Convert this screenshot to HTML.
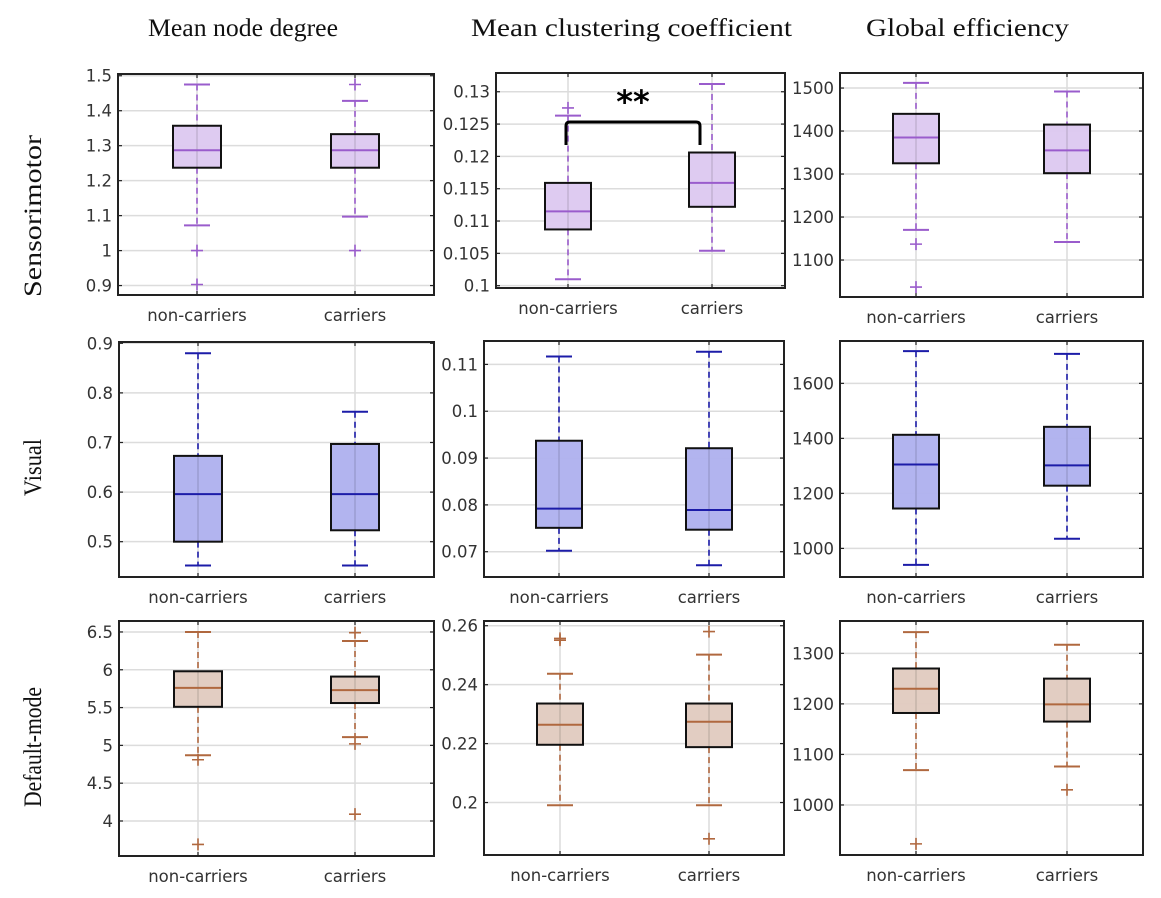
<!DOCTYPE html>
<html><head><meta charset="utf-8">
<style>
html,body{margin:0;padding:0;background:#fff;}
svg{display:block;}
</style></head>
<body>
<svg id="fig" width="1161" height="898" viewBox="0 0 1161 898" xmlns="http://www.w3.org/2000/svg">
<g id="titles" font-family="Liberation Serif, serif" fill="#111">
  <text x="148" y="36" font-size="25" textLength="190" lengthAdjust="spacingAndGlyphs">Mean node degree</text>
  <text x="471" y="36" font-size="25" textLength="321" lengthAdjust="spacingAndGlyphs">Mean clustering coefficient</text>
  <text x="866" y="36" font-size="25" textLength="203" lengthAdjust="spacingAndGlyphs">Global efficiency</text>
  <text transform="translate(41,297) rotate(-90)" font-size="25" textLength="162" lengthAdjust="spacingAndGlyphs">Sensorimotor</text>
  <text transform="translate(41,496) rotate(-90)" font-size="25" textLength="57" lengthAdjust="spacingAndGlyphs">Visual</text>
  <text transform="translate(41,807) rotate(-90)" font-size="25" textLength="120" lengthAdjust="spacingAndGlyphs">Default-mode</text>
</g>
</svg>
<script>
const categories = ["non-carriers", "carriers"];
// each box: [q1, median, q3, whiskerLow, whiskerHigh]
const smDegreeBoxes = [[1.237,1.287,1.357,1.072,1.475],[1.237,1.287,1.333,1.097,1.428]];
const smDegreeOut = [[1.0,0.903],[1.475,1.0]];
const smDegreeTicks = [0.9,1,1.1,1.2,1.3,1.4,1.5];
const smDegreeTickLabels = ["0.9","1","1.1","1.2","1.3","1.4","1.5"];

const smClustBoxes = [[0.1087,0.1115,0.1159,0.101,0.1263],[0.1122,0.1159,0.1206,0.1054,0.1312]];
const smClustOut = [[0.1275],[]];
const smClustTicks = [0.1,0.105,0.11,0.115,0.12,0.125,0.13];
const smClustTickLabels = ["0.1","0.105","0.11","0.115","0.12","0.125","0.13"];

const smEffBoxes = [[1325,1385,1440,1170,1512],[1302,1355,1415,1142,1492]];
const smEffOut = [[1137,1037],[]];
const smEffTicks = [1100,1200,1300,1400,1500];
const smEffTickLabels = ["1100","1200","1300","1400","1500"];

const visDegreeBoxes = [[0.5,0.596,0.673,0.452,0.88],[0.523,0.596,0.697,0.452,0.762]];
const visDegreeOut = [[],[]];
const visDegreeTicks = [0.5,0.6,0.7,0.8,0.9];
const visDegreeTickLabels = ["0.5","0.6","0.7","0.8","0.9"];

const visClustBoxes = [[0.0751,0.0792,0.0937,0.0702,0.1117],[0.0747,0.0789,0.0921,0.0671,0.1127]];
const visClustOut = [[],[]];
const visClustTicks = [0.07,0.08,0.09,0.1,0.11];
const visClustTickLabels = ["0.07","0.08","0.09","0.1","0.11"];

const visEffBoxes = [[1145,1305,1413,940,1717],[1228,1302,1442,1035,1707]];
const visEffOut = [[],[]];
const visEffTicks = [1000,1200,1400,1600];
const visEffTickLabels = ["1000","1200","1400","1600"];

const dmDegreeBoxes = [[5.51,5.76,5.98,4.87,6.5],[5.56,5.73,5.91,5.11,6.38]];
const dmDegreeOut = [[4.81,3.69],[6.49,5.02,4.09]];
const dmDegreeTicks = [4,4.5,5,5.5,6,6.5];
const dmDegreeTickLabels = ["4","4.5","5","5.5","6","6.5"];

const dmClustBoxes = [[0.2196,0.2264,0.2336,0.1991,0.2437],[0.2188,0.2274,0.2336,0.1991,0.2502]];
const dmClustOut = [[0.2551,0.2557],[0.258,0.1877]];
const dmClustTicks = [0.2,0.22,0.24,0.26];
const dmClustTickLabels = ["0.2","0.22","0.24","0.26"];

const dmEffBoxes = [[1182,1230,1270,1069,1342],[1165,1199,1250,1076,1317]];
const dmEffOut = [[923],[1030]];
const dmEffTicks = [1000,1100,1200,1300];
const dmEffTickLabels = ["1000","1100","1200","1300"];

const NS = "http://www.w3.org/2000/svg";
const svg = document.getElementById("fig");
function mk(tag, attrs, parent){
  const e = document.createElementNS(NS, tag);
  for (const k in attrs) e.setAttribute(k, attrs[k]);
  parent.appendChild(e);
  return e;
}
const themes = {
  sm: {fill:"#dcc8f0", line:"#9a5ccc"},
  vis:{fill:"#aeb0ee", line:"#1c1ca8"},
  dm: {fill:"#e0cabf", line:"#b0683f"}
};

function panel(name, L, R, T, B, ymin, ymax, xs, halfW, boxes, outs, ticks, tickLabels, theme){
  const g = mk("g", {}, svg);
  
  
  const y = v => B - (v - ymin) / (ymax - ymin) * (B - T);
  ticks.forEach((t, i) => {
    const gl = mk("line", {x1:L, x2:R, y1:y(t), y2:y(t), stroke:"#dcdcdc", "stroke-width":1.5}, g);
    
    
    const tm1 = mk("line", {x1:L, x2:L+4, y1:y(t), y2:y(t), stroke:"#222", "stroke-width":1.2}, g);
    
    
    const tm2 = mk("line", {x1:R-4, x2:R, y1:y(t), y2:y(t), stroke:"#222", "stroke-width":1.2}, g);
    
    
    const tl = mk("text", {x:L-6, y:y(t)+6, "text-anchor":"end", "font-size":16.5, fill:"#333", "font-family":"DejaVu Sans, Liberation Sans, sans-serif"}, g);
    tl.textContent = tickLabels[i];
    
    
  });
  xs.forEach((x, i) => {
    const vg = mk("line", {x1:x, x2:x, y1:T, y2:B, stroke:"#dcdcdc", "stroke-width":1.5}, g);
    
    
    const t1 = mk("line", {x1:x, x2:x, y1:T, y2:T+4, stroke:"#222", "stroke-width":1.2}, g);
    
    
    const t2 = mk("line", {x1:x, x2:x, y1:B-4, y2:B, stroke:"#222", "stroke-width":1.2}, g);
    
    
    const xl = mk("text", {x:x, y:B+26, "text-anchor":"middle", "font-size":16.5, fill:"#333", "font-family":"DejaVu Sans, Liberation Sans, sans-serif"}, g);
    xl.textContent = categories[i];
    
    
  });
  boxes.forEach((b, i) => {
    const x = xs[i];
    const [q1, med, q3, lo, hi] = b;
    const bg = mk("g", {}, g);
    
    
    const w1 = mk("line", {x1:x, x2:x, y1:y(hi), y2:y(q3), stroke:theme.line, "stroke-width":1.6, "stroke-dasharray":"6,4"}, bg);
    
    
    const w2 = mk("line", {x1:x, x2:x, y1:y(q1), y2:y(lo), stroke:theme.line, "stroke-width":1.6, "stroke-dasharray":"6,4"}, bg);
    
    
    [hi, lo].forEach(v => {
      const c = mk("line", {x1:x-13, x2:x+13, y1:y(v), y2:y(v), stroke:theme.line, "stroke-width":2}, bg);
      
      
    });
    const r = mk("rect", {x:x-halfW, y:y(q3), width:2*halfW, height:y(q1)-y(q3), fill:theme.fill, "fill-opacity":0.95, stroke:"#111", "stroke-width":2}, bg);
    
    
    const vx = mk("line", {x1:x, x2:x, y1:y(q3), y2:y(q1), stroke:"#000", "stroke-opacity":0.12, "stroke-width":1.5}, bg);
    
    
    const m = mk("line", {x1:x-halfW+1, x2:x+halfW-1, y1:y(med), y2:y(med), stroke:theme.line, "stroke-width":2}, bg);
    
    
    outs[i].forEach(v => {
      const o = mk("path", {d:`M${x-6},${y(v)}H${x+6}M${x},${y(v)-6}V${y(v)+6}`, stroke:theme.line, "stroke-width":1.6, fill:"none"}, bg);
      
      
    });
  });
  const fr = mk("rect", {x:L, y:T, width:R-L, height:B-T, fill:"none", stroke:"#222", "stroke-width":2}, g);
  
  
  return g;
}

panel('sensorimotor-node-degree', 118, 434, 74, 295, 0.873, 1.505, [197,355], 24, smDegreeBoxes, smDegreeOut, smDegreeTicks, smDegreeTickLabels, themes.sm);
const pc = panel('sensorimotor-clustering', 496, 785, 73, 288, 0.09964, 0.1329, [568,712], 23, smClustBoxes, smClustOut, smClustTicks, smClustTickLabels, themes.sm);
panel('sensorimotor-efficiency', 840, 1143, 73, 297, 1014, 1535, [916,1067], 23, smEffBoxes, smEffOut, smEffTicks, smEffTickLabels, themes.sm);

panel('visual-node-degree', 119, 434, 342, 577, 0.4288, 0.9026, [198,355], 24, visDegreeBoxes, visDegreeOut, visDegreeTicks, visDegreeTickLabels, themes.vis);
panel('visual-clustering', 484, 784, 341, 577, 0.0646, 0.115, [559,709], 23, visClustBoxes, visClustOut, visClustTicks, visClustTickLabels, themes.vis);
panel('visual-efficiency', 840, 1143, 341, 577, 896, 1754, [916,1067], 23, visEffBoxes, visEffOut, visEffTicks, visEffTickLabels, themes.vis);

panel('default-mode-node-degree', 119, 434, 621, 856, 3.537, 6.645, [198,355], 24, dmDegreeBoxes, dmDegreeOut, dmDegreeTicks, dmDegreeTickLabels, themes.dm);
panel('default-mode-clustering', 484, 784, 621, 855, 0.1822, 0.2616, [560,709], 23, dmClustBoxes, dmClustOut, dmClustTicks, dmClustTickLabels, themes.dm);
panel('default-mode-efficiency', 840, 1143, 621, 855, 901, 1364, [916,1067], 23, dmEffBoxes, dmEffOut, dmEffTicks, dmEffTickLabels, themes.dm);

const br = mk("path", {d:"M566,145 V126 Q566,122 570,122 H696 Q700,122 700,126 V145", fill:"none", stroke:"#000", "stroke-width":3}, pc);


const st = mk("text", {x:633, y:113, "text-anchor":"middle", "font-size":32, "font-weight":"bold", fill:"#000", "font-family":"DejaVu Sans, sans-serif"}, pc);
st.textContent = "**";


</script>
</body></html>
